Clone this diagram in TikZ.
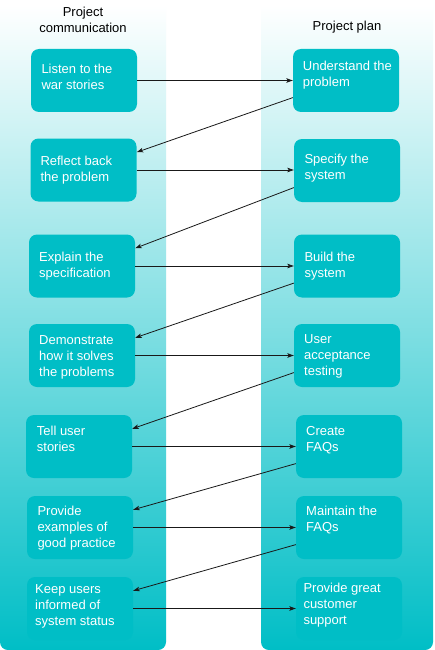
\documentclass[tikz,border=0pt]{standalone}
\usepackage{fontspec}
\setmainfont{Liberation Sans}
\usetikzlibrary{arrows.meta,calc}
\definecolor{teal1}{RGB}{0,190,198}
\newcommand\mytxt[1]{\vtop{\halign{##\hfil\cr #1\crcr}}}
\begin{document}
\begin{tikzpicture}[x=1pt,y=-1pt,
  box/.style={draw=none, fill=teal1, rounded corners=8pt, minimum width=106pt, minimum height=63pt, inner sep=0pt},
  txt/.style={text=white, inner sep=0pt, anchor=base west, font=\fontsize{13}{16}\selectfont},
  ttl/.style={text=black, inner sep=0pt, anchor=base, font=\fontsize{13}{16}\selectfont},
  arr/.style={-{Stealth[length=6.5pt,width=4.5pt,inset=1.5pt]}, line width=0.8pt, draw=black!90}]
\useasboundingbox (0,0) rectangle (434,650);
\fill[white] (0,0) rectangle (434,650);
% column backgrounds
\shade[top color=white, bottom color=teal1] (0,5) -- (166,5) [rounded corners=8pt] -- (166,650) -- (0,650) [sharp corners] -- cycle;
\shade[top color=white, bottom color=teal1] (261,5) -- (433,5) [rounded corners=8pt] -- (433,650) -- (261,650) [sharp corners] -- cycle;
% titles
\node[ttl] (t1) at (83,17) {Project};
\node[ttl] (t2) at (83,33) {communication};
\node[ttl] (t3) at (347,31) {Project plan};
% left boxes
\node[box] (L1) at (84,80.5) {};
\node[box] (L2) at (83.5,170) {};
\node[box] (L3) at (82,266) {};
\node[box] (L4) at (82,355.5) {};
\node[box] (L5) at (79,446.5) {};
\node[box] (L6) at (80,527.5) {};
\node[box] (L7) at (80,608.5) {};
% right boxes
\node[box] (R1) at (346,80.5) {};
\node[box] (R2) at (347,170.5) {};
\node[box] (R3) at (347,266) {};
\node[box] (R4) at (347,355.5) {};
\node[box] (R5) at (349,446.5) {};
\node[box] (R6) at (349,527.5) {};
\node[box] (R7) at (349,608.5) {};
% texts
\node[txt] (L1t) at (41.3,74) {\mytxt{Listen to the\cr war stories}};
\node[txt] (L2t) at (40.3,165.7) {\mytxt{Reflect back\cr the problem}};
\node[txt] (L3t) at (39,261.7) {\mytxt{Explain the\cr specification}};
\node[txt] (L4t) at (39,344) {\mytxt{Demonstrate\cr how it solves\cr the problems}};
\node[txt] (L5t) at (36.7,435) {\mytxt{Tell user\cr stories}};
\node[txt] (L6t) at (37.3,515.3) {\mytxt{Provide\cr examples of\cr good practice}};
\node[txt] (L7t) at (35,593.3) {\mytxt{Keep users\cr informed of\cr system status}};
\node[txt] (R1t) at (302.7,70.7) {\mytxt{Understand the\cr problem}};
\node[txt] (R2t) at (304.3,163.7) {\mytxt{Specify the\cr system}};
\node[txt] (R3t) at (304.3,261.7) {\mytxt{Build the\cr system}};
\node[txt] (R4t) at (304,343.7) {\mytxt{User\cr acceptance\cr testing}};
\node[txt] (R5t) at (306,435) {\mytxt{Create\cr FAQs}};
\node[txt] (R6t) at (306,515.3) {\mytxt{Maintain the\cr FAQs}};
\node[txt] (R7t) at (303.3,592) {\mytxt{Provide great\cr customer\cr support}};
% horizontal arrows
\foreach \k in {1,...,7}{
  \draw[arr] (L\k.east) -- (L\k.east -| R\k.west);
}
% diagonal arrows
\foreach \k/\n in {1/2,2/3,3/4,4/5,5/6,6/7}{
  \draw[arr] ($(R\k.north west)!0.77!(R\k.south west)$) -- ($(L\n.north east)!0.22!(L\n.south east)$);
}
\end{tikzpicture}
\end{document}
